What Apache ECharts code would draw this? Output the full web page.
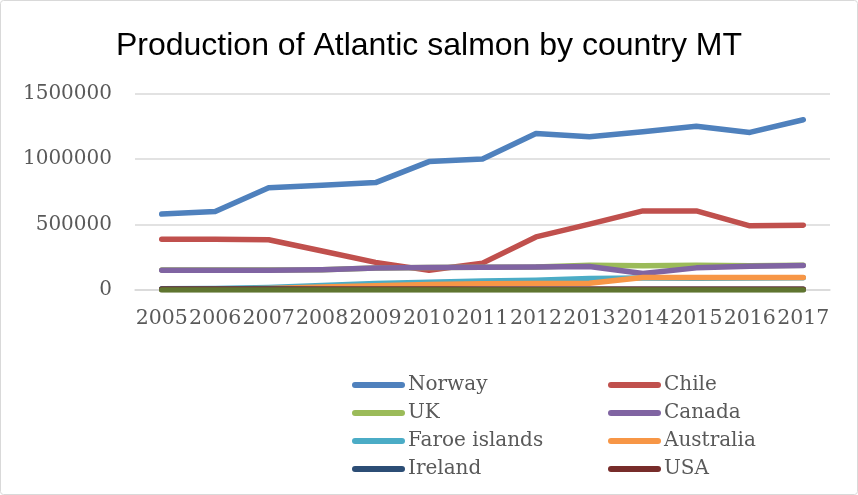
<!DOCTYPE html>
<html>
<head>
<meta charset="utf-8">
<script src="https://cdn.jsdelivr.net/npm/echarts@6/dist/echarts.min.js"></script>
<style>
  html, body { margin: 0; padding: 0; background: #fff; }
  #chart { width: 858px; height: 495px; }
</style>
</head>
<body>
<div id="chart"></div>
<script>
// Atlantic salmon production by country, metric tonnes
const years = ['2005','2006','2007','2008','2009','2010','2011','2012','2013','2014','2015','2016','2017'];
const norway    = [580000, 600000, 780000, 800000, 820000, 980000, 1000000, 1195000, 1170000, 1208000, 1250000, 1203000, 1300000];
const chile     = [387000, 387000, 384000, 298000, 211000, 150000, 205000, 405000, 503000, 604000, 604000, 490000, 495000];
const uk        = [152000, 152000, 152000, 155000, 168000, 172000, 174000, 176000, 189000, 185000, 188000, 186000, 188000];
const canada    = [151000, 151000, 151000, 155000, 168000, 172000, 174000, 176000, 180000, 126000, 169000, 182000, 187000];
const faroe     = [10000, 12000, 20000, 35000, 50000, 60000, 68000, 75000, 88000, 92000, 90000, 92000, 94000];
const australia = [5000, 8000, 12000, 22000, 33000, 42000, 48000, 50000, 51000, 95000, 95000, 95000, 95000];
const ireland   = [8000, 8000, 7000, 6000, 6000, 6000, 6000, 6000, 5000, 5000, 5000, 5000, 5000];
const usa       = [6000, 6000, 6000, 5000, 5000, 5000, 5000, 5000, 5000, 5000, 5000, 5000, 5000];
const other     = [0, 0, 0, 0, 0, 0, 0, 0, 0, 0, 0, 0, 0];
const yTicks    = [0, 500000, 1000000, 1500000];

const seriesDefs = [
  { name: 'Norway',        data: norway,    color: '#4F81BD' },
  { name: 'Chile',         data: chile,     color: '#C0504D' },
  { name: 'UK',            data: uk,        color: '#9BBB59' },
  { name: 'Canada',        data: canada,    color: '#8064A2' },
  { name: 'Faroe islands', data: faroe,     color: '#4BACC6' },
  { name: 'Australia',     data: australia, color: '#F79646' },
  { name: 'Ireland',       data: ireland,   color: '#2C4D75' },
  { name: 'USA',           data: usa,       color: '#772C2A' },
  { name: 'Other',         data: other,     color: '#5F7530' }
];

const serif = '"DejaVu Serif", "Liberation Serif", serif';
const lineIcon = 'path://M3,0 H50 A3,3 0 0 1 50,6 H3 A3,3 0 0 1 3,0 Z';

function legendColumn(names, left) {
  return {
    orient: 'vertical',
    left: left,
    top: 371,
    padding: 0,
    data: names,
    icon: lineIcon,
    itemWidth: 53,
    itemHeight: 6,
    itemGap: 0,
    selectedMode: false,
    textStyle: { fontFamily: serif, fontSize: 20, color: '#595959', lineHeight: 28, padding: [0, 0, 0, -2] }
  };
}

const chart = echarts.init(document.getElementById('chart'), null, { renderer: 'canvas' });
chart.setOption({
  animation: false,
  backgroundColor: '#fff',
  title: {
    text: 'Production of Atlantic salmon by country MT',
    left: 'center',
    top: 25,
    textStyle: { fontFamily: '"Liberation Sans", Arial, sans-serif', fontSize: 32, fontWeight: 'normal', color: '#000' }
  },
  legend: [
    legendColumn(['Norway', 'UK', 'Faroe islands', 'Ireland'], 352),
    legendColumn(['Chile', 'Canada', 'Australia', 'USA'], 608)
  ],
  grid: { left: 135, right: 28, top: 93.5, bottom: 205, containLabel: false },
  xAxis: {
    type: 'category',
    data: years,
    boundaryGap: true,
    axisLine: { show: true, lineStyle: { color: '#d9d9d9', width: 1.5 } },
    axisTick: { show: false },
    axisLabel: { interval: 0, margin: 18, fontFamily: serif, fontSize: 20.5, color: '#595959' }
  },
  yAxis: {
    type: 'value',
    min: yTicks[0],
    max: yTicks[yTicks.length - 1],
    interval: yTicks[1] - yTicks[0],
    axisLine: { show: false },
    axisTick: { show: false },
    splitLine: { lineStyle: { color: '#d9d9d9', width: 1.5 } },
    axisLabel: {
      margin: 23, fontFamily: serif, fontSize: 20, color: '#595959',
      formatter: function (v) { return String(v); }
    }
  },
  graphic: [{
    type: 'rect',
    shape: { x: 0.5, y: 0.5, width: 857, height: 494, r: 3 },
    style: { fill: null, stroke: '#d9d9d9', lineWidth: 1 },
    silent: true
  }],
  series: seriesDefs.map(function (s) {
    return {
      name: s.name,
      type: 'line',
      data: s.data,
      symbol: 'none',
      color: s.color,
      lineStyle: { color: s.color, width: 5.5, cap: 'round', join: 'round' },
      emphasis: { disabled: true }
    };
  })
});
</script>
</body>
</html>
